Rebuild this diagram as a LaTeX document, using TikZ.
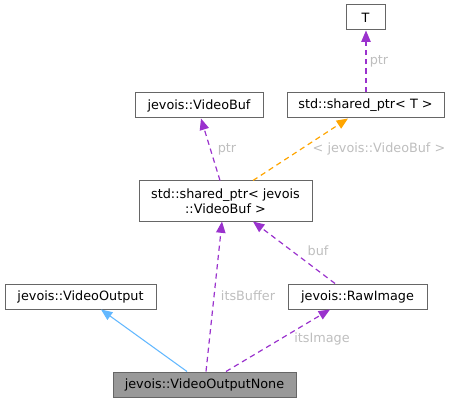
\documentclass[tikz,border=0pt]{standalone}
\usepackage{fontspec}
\setmainfont{DejaVu Sans}
\usetikzlibrary{arrows.meta,calc}
\definecolor{bordc}{HTML}{666666}
\definecolor{purp}{HTML}{9A32CD}
\definecolor{orng}{HTML}{FFA500}
\definecolor{lblue}{HTML}{63B8FF}
\definecolor{lblc}{HTML}{BEBEBE}
\definecolor{grayfill}{HTML}{999999}
\tikzset{
  box/.style={draw=bordc, line width=0.75pt, fill=white, inner sep=0pt, minimum height=18.75pt, font=\fontsize{9.6pt}{11.5pt}\selectfont, align=center},
  grbox/.style={box, fill=grayfill},
  lbl/.style={text=lblc, inner sep=0pt, font=\fontsize{9.6pt}{11.5pt}\selectfont},
  usage/.style={draw=purp, line width=0.9pt, dash pattern=on 4pt off 3pt, -{Triangle[length=8.5pt,width=7pt]}},
  tmpl/.style={draw=orng, line width=0.9pt, dash pattern=on 4pt off 3pt, -{Triangle[length=8.5pt,width=7pt]}},
  inh/.style={draw=lblue, line width=0.8pt, -{Triangle[length=8.5pt,width=7pt]}},
}
\begin{document}
\begin{tikzpicture}[x=0.75pt,y=-0.75pt]
\useasboundingbox (0,0) rectangle (454,403);
\node[box, minimum width=29.25pt] (T) at (365.5,17.5) {T};
\node[box, minimum width=96pt] (VB) at (199,105.5) {jevois::VideoBuf};
\node[box, minimum width=117.75pt] (spT) at (365.5,105.5) {std::shared\_ptr< T >};
\node[box, minimum width=129.75pt, minimum height=30pt] (spVB) at (225.5,201) {std::shared\_ptr< jevois\\::VideoBuf >};
\node[box, minimum width=113.25pt] (VO) at (80.5,296.5) {jevois::VideoOutput};
\node[box, minimum width=104.25pt] (RI) at (357.5,296.5) {jevois::RawImage};
\node[grbox, minimum width=137.25pt] (VON) at (204.5,384.5) {jevois::VideoOutputNone};

\draw[usage] ($(spT.north)+(0.5,0)$) -- ($(T.south)+(0.5,0)$);
\draw[usage] ($(spVB.north)+(-5.5,0)$) -- ($(VB.south)+(2,0)$);
\draw[tmpl] ($(spVB.north)+(27.5,0)$) -- ($(spT.south)+(-17.5,0)$);
\draw[usage] ($(VON.north)+(1.5,0)$) -- ($(spVB.south)+(-3.5,0)$);
\draw[usage] ($(RI.north)+(-22.5,0)$) -- ($(spVB.south)+(27.5,0)$);
\draw[usage] ($(VON.north)+(21.5,0)$) -- ($(RI.south)+(-27.5,0)$);
\draw[inh] ($(VON.north)+(-17.5,0)$) -- ($(VO.south)+(20.5,0)$);

\node[lbl] (l1) at (379,61) {ptr};
\node[lbl] (l2) at (227,149) {ptr};
\node[lbl] (l3) at (379,149) {< jevois::VideoBuf >};
\node[lbl] (l4) at (248,296) {itsBuffer};
\node[lbl] (l5) at (318,251) {buf};
\node[lbl] (l6) at (322,339) {itsImage};
\end{tikzpicture}
\end{document}
